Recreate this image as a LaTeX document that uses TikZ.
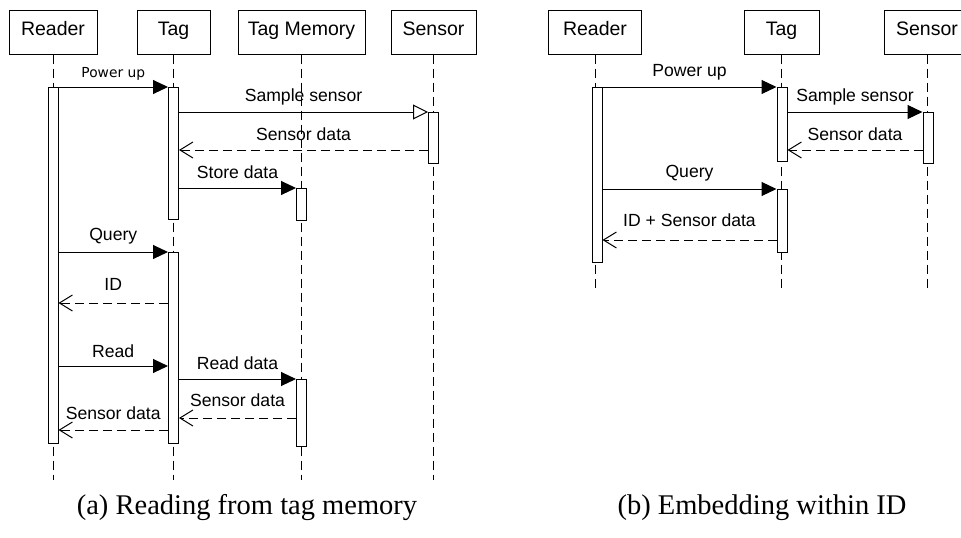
\documentclass[tikz,border=0pt]{standalone}
\usepackage{fontspec}
\setmainfont{Liberation Serif}
\setsansfont{Liberation Sans}
\newfontfamily\smallsans{DejaVu Sans}
\usetikzlibrary{arrows.meta}

\tikzset{
  head/.style={draw, line width=1pt, minimum height=44pt, inner sep=0pt,
    text height=14pt, text depth=8pt,
    font=\sffamily\fontsize{19.5}{22}\selectfont},
  life/.style={line width=0.9pt, dash pattern=on 9pt off 5pt},
  actbar/.style={draw, fill=white, line width=1pt, minimum width=10pt,
    inner sep=0pt, anchor=north},
  msg/.style={line width=1pt, -{Triangle[length=15pt,width=14pt]}},
  msgopen/.style={line width=1pt, -{Triangle[open,length=15pt,width=15pt,fill=white]}},
  reply/.style={line width=1pt, dash pattern=on 9pt off 5pt,
    -{Straight Barb[length=13pt,width=16pt]}},
  lbl/.style={font=\sffamily\fontsize{17.6}{20}\selectfont, inner sep=0pt},
  lblsmall/.style={font=\smallsans\fontsize{13.8}{16}\selectfont, inner sep=0pt},
  capt/.style={font=\fontsize{28.5}{32}\selectfont, inner sep=0pt},
}

\begin{document}
\begin{tikzpicture}[x=1pt, y=-1pt]
\useasboundingbox (0,0) rectangle (961,538);
\clip (0,0) rectangle (961,538);

% ---------- (a) reading from tag memory ----------
\node[head, minimum width=88pt]  (hRa) at (53,32)    {Reader};
\node[head, minimum width=73pt]  (hTa) at (173.5,32) {Tag};
\node[head, minimum width=127pt] (hMa) at (301.5,32) {Tag Memory};
\node[head, minimum width=85pt]  (hSa) at (433.5,32) {Sensor};

\coordinate (endA) at (0,480);
\foreach \h in {hRa,hTa,hMa,hSa}
  \draw[life] (\h.south) -- (\h.south |- endA);

\node[actbar, minimum height=356pt] (ra)  at (53,87)    {};
\node[actbar, minimum height=132pt] (ta1) at (173.5,87) {};
\node[actbar, minimum height=51pt]  (sa)  at (433.5,112) {};
\node[actbar, minimum height=32pt]  (ma1) at (301.5,188) {};
\node[actbar, minimum height=191pt] (ta2) at (173.5,252) {};
\node[actbar, minimum height=67pt]  (ma2) at (301.5,379) {};

\coordinate (ya3) at (0,150);
\coordinate (ya6) at (0,303);
\coordinate (ya7) at (0,366);
\coordinate (ya9) at (0,418);
\coordinate (ya10) at (0,430);

\draw[msg] (ra.north east) -- (ta1.north west)
  node[lblsmall, midway, yshift=13pt] {Power up};
\draw[msgopen] (ta1.east |- sa.north) -- (sa.north west)
  node[lbl, midway, yshift=15pt] {Sample sensor};
\draw[reply] (sa.west |- ya3) -- (ta1.east |- ya3)
  node[lbl, midway, yshift=16pt] {Sensor data};
\draw[msg] (ta1.east |- ma1.north) -- (ma1.north west)
  node[lbl, midway, yshift=16pt] {Store data};
\draw[msg] (ra.east |- ta2.north) -- (ta2.north west)
  node[lbl, midway, yshift=16pt] {Query};
\draw[reply] (ta2.west |- ya6) -- (ra.east |- ya6)
  node[lbl, midway, yshift=19pt] {ID};
\draw[msg] (ra.east |- ya7) -- (ta2.west |- ya7)
  node[lbl, midway, yshift=15pt] {Read};
\draw[msg] (ta2.east |- ma2.north) -- (ma2.north west)
  node[lbl, midway, yshift=16pt] {Read data};
\draw[reply] (ma2.west |- ya9) -- (ta2.east |- ya9)
  node[lbl, midway, yshift=18pt] {Sensor data};
\draw[reply] (ta2.west |- ya10) -- (ra.east |- ya10)
  node[lbl, midway, yshift=17pt] {Sensor data};

\node[capt] (capA) at (247,508) {(a) Reading from tag memory};

% ---------- (b) embedding within ID ----------
\node[head, minimum width=93pt] (hRb) at (595,32)   {Reader};
\node[head, minimum width=75pt] (hTb) at (781.5,32) {Tag};
\node[head, minimum width=85pt] (hSb) at (927,32)   {Sensor};

\coordinate (endB) at (0,288);
\foreach \h in {hRb,hTb,hSb}
  \draw[life] (\h.south) -- (\h.south |- endB);

\node[actbar, minimum height=175pt] (rb)  at (597,87)   {};
\node[actbar, minimum height=74pt]  (tb1) at (782,87)   {};
\node[actbar, minimum height=51pt]  (sb)  at (928,112)  {};
\node[actbar, minimum height=63pt]  (tb2) at (782,189)  {};

\coordinate (yb3) at (0,150);
\coordinate (yb5) at (0,240);

\draw[msg] (rb.north east) -- (tb1.north west)
  node[lbl, midway, yshift=15pt] {Power up};
\draw[msg] (tb1.east |- sb.north) -- (sb.north west)
  node[lbl, midway, yshift=15pt] {Sample sensor};
\draw[reply] (sb.west |- yb3) -- (tb1.east |- yb3)
  node[lbl, midway, yshift=16pt] {Sensor data};
\draw[msg] (rb.east |- tb2.north) -- (tb2.north west)
  node[lbl, midway, yshift=16pt] {Query};
\draw[reply] (tb2.west |- yb5) -- (rb.east |- yb5)
  node[lbl, midway, yshift=20pt] {ID + Sensor data};

\node[capt] (capB) at (762,508) {(b) Embedding within ID};
\end{tikzpicture}
\end{document}
